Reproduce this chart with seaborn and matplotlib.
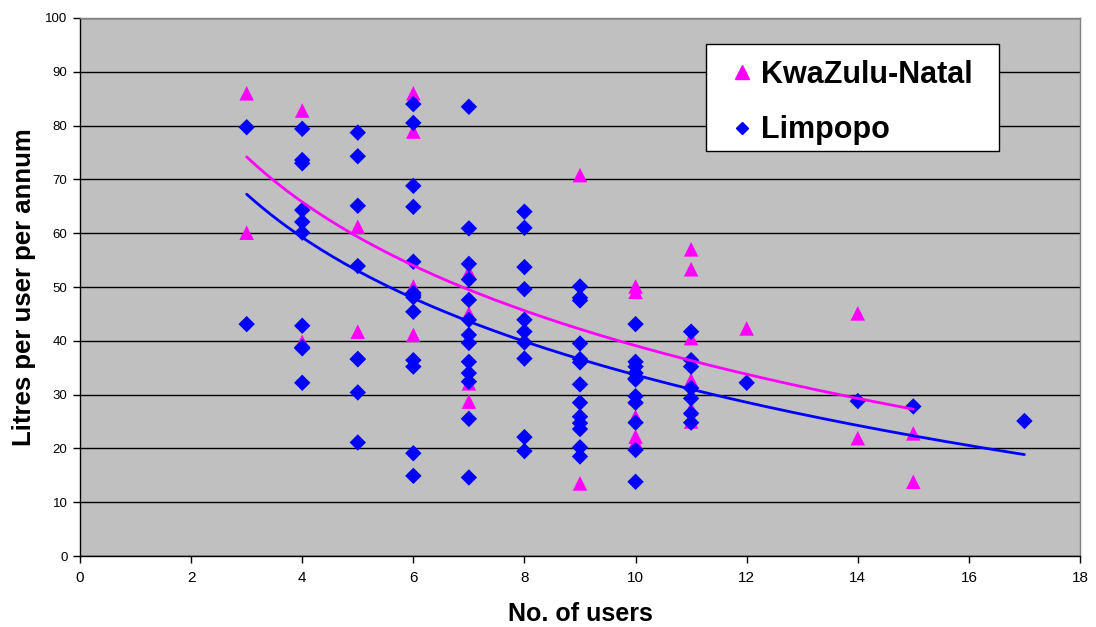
import matplotlib
matplotlib.use("Agg")
import matplotlib.pyplot as plt
import seaborn as sns
import pandas as pd
import numpy as np
from matplotlib.lines import Line2D
from matplotlib.patches import Rectangle

# KwaZulu-Natal (pink triangles)
kzn_users = [3, 3, 4, 4, 5, 5, 6, 6, 6, 6, 7, 7, 7, 7,
             9, 9, 10, 10, 10, 10, 10, 10, 11, 11, 11, 11, 11, 11,
             12, 14, 14, 15, 15]
kzn_litres = [86.0, 60.1, 82.8, 39.8, 61.2, 41.7, 86.0, 78.9, 50.1, 41.1,
              52.8, 45.1, 32.1, 28.7, 70.8, 13.5, 50.1, 49.1, 29.4, 25.9, 22.2, 21.2,
              57.0, 53.3, 40.5, 32.7, 27.4, 25.0, 42.3, 45.1, 21.9, 22.8, 13.8]

# Limpopo (blue diamonds)
lim_users = [3, 3,
             4, 4, 4, 4, 4, 4, 4, 4, 4, 4,
             5, 5, 5, 5, 5, 5, 5, 5,
             6, 6, 6, 6, 6, 6, 6, 6, 6, 6, 6, 6, 6,
             7, 7, 7, 7, 7, 7, 7, 7, 7, 7, 7, 7, 7,
             8, 8, 8, 8, 8, 8, 8, 8, 8, 8,
             9, 9, 9, 9, 9, 9, 9, 9, 9, 9, 9, 9, 9,
             10, 10, 10, 10, 10, 10, 10, 10, 10, 10, 10,
             11, 11, 11, 11, 11, 11, 11,
             12, 14, 15, 17]
lim_litres = [79.7, 43.1,
              79.4, 73.6, 73.0, 64.3, 62.1, 60.1, 42.8, 38.6, 32.2, 38.8,
              78.7, 74.3, 65.1, 53.9, 36.6, 30.4, 21.1, 36.6,
              84.0, 80.5, 68.8, 64.9, 54.7, 48.9, 48.1, 45.4, 36.4, 35.2, 19.1, 14.9, 48.5,
              83.5, 60.9, 54.3, 51.4, 47.6, 43.9, 41.1, 39.6, 36.1, 34.0, 32.4, 25.5, 14.6,
              64.0, 61.0, 53.7, 49.6, 43.9, 41.7, 39.7, 36.7, 22.1, 19.5,
              50.1, 48.0, 47.5, 39.5, 36.6, 36.0, 31.9, 28.5, 25.9, 24.7, 23.6, 20.2, 18.5,
              43.1, 36.1, 35.2, 33.0, 29.7, 28.5, 24.8, 19.7, 13.8, 34.0, 32.8,
              41.7, 36.4, 35.2, 31.2, 29.3, 26.5, 24.8,
              32.2, 28.8, 27.8, 25.1]

# Logarithmic trendlines (y = a + b*ln(x)), coefficients
kzn_trend = [106.2, -29.14]
lim_trend = [97.9, -27.9]

series_names = ["KwaZulu-Natal", "Limpopo"]
x_ticks = [0, 2, 4, 6, 8, 10, 12, 14, 16, 18]
y_ticks = [0, 10, 20, 30, 40, 50, 60, 70, 80, 90, 100]

PINK = "#FF00FF"
BLUE = "#0000FF"

kzn = pd.DataFrame({"users": kzn_users, "litres": kzn_litres})
lim = pd.DataFrame({"users": lim_users, "litres": lim_litres})


def trend_frame(users, coef):
    xs = np.linspace(min(users), max(users), 200)
    return pd.DataFrame({"users": xs, "litres": coef[0] + coef[1] * np.log(xs)})


sns.set_theme(style="white")
plt.rcParams["font.family"] = ["Liberation Sans", "DejaVu Sans"]
for key in ["text.color", "axes.labelcolor", "xtick.color", "ytick.color"]:
    plt.rcParams[key] = "black"

fig = plt.figure(figsize=(10.96, 6.27), dpi=100)
ax = fig.add_axes([0.073, 0.1132, 0.9124, 0.8581])
ax.set_facecolor("#C0C0C0")

sns.scatterplot(data=kzn, x="users", y="litres", marker="^", s=110, color=PINK,
                edgecolor="none", linewidth=0, ax=ax, zorder=3)
sns.scatterplot(data=lim, x="users", y="litres", marker="D", s=70, color=BLUE,
                edgecolor="none", linewidth=0, ax=ax, zorder=4)
sns.lineplot(data=trend_frame(lim_users, lim_trend), x="users", y="litres",
             color=BLUE, linewidth=2.0, ax=ax, zorder=5)
sns.lineplot(data=trend_frame(kzn_users, kzn_trend), x="users", y="litres",
             color=PINK, linewidth=2.0, ax=ax, zorder=6)

ax.set_xlim(0, 18)
ax.set_ylim(0, 100)
ax.set_xticks(x_ticks)
ax.set_yticks(y_ticks)
ax.set_xticklabels([str(t) for t in x_ticks], fontsize=11)
ax.set_yticklabels([str(t) for t in y_ticks], fontsize=9.5)
ax.yaxis.grid(True, color="black", linewidth=1.0)
ax.set_axisbelow(True)
ax.tick_params(axis="both", direction="out", length=5, width=1, color="black",
               left=True, bottom=True)
ax.tick_params(axis="x", pad=6)
ax.tick_params(axis="y", pad=4)
for side in ["left", "bottom"]:
    ax.spines[side].set_color("black")
    ax.spines[side].set_linewidth(1.0)
for side in ["top", "right"]:
    ax.spines[side].set_color("#808080")
    ax.spines[side].set_linewidth(1.0)

ax.set_xlabel("No. of users", fontsize=18, fontweight="bold", labelpad=12)
ax.set_ylabel("Litres per user per annum", fontsize=18.5, fontweight="bold", labelpad=7)

# legend box
box = Rectangle((0.6257, 0.7528), 0.2933, 0.1989, transform=ax.transAxes,
                facecolor="white", edgecolor="black", linewidth=1.0, zorder=9)
ax.add_patch(box)

handles = [
    Line2D([], [], marker="^", linestyle="none", color=PINK, markersize=9.5),
    Line2D([], [], marker="D", linestyle="none", color=BLUE, markersize=6.5),
]
leg = ax.legend(handles, series_names, loc="upper left",
                bbox_to_anchor=(0.6467, 0.922), frameon=False,
                prop={"weight": "bold", "size": 22}, handletextpad=0.12,
                borderpad=0, labelspacing=0.83, handlelength=1.0, borderaxespad=0)
leg.set_zorder(10)

fig.savefig("out.png", dpi=100)
